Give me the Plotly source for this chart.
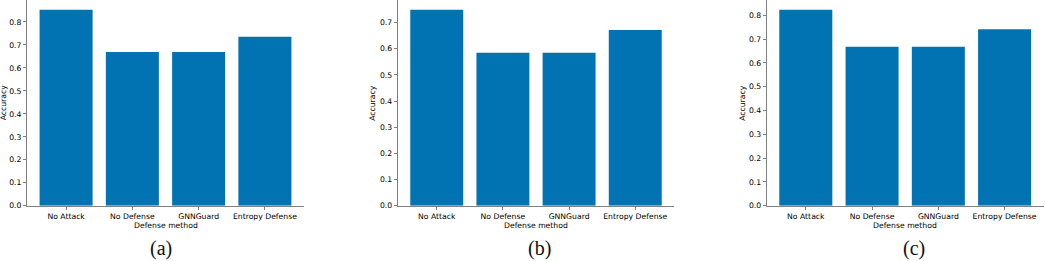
import plotly.graph_objects as go

W, H = 1045, 261

categories = ["No Attack", "No Defense", "GNNGuard", "Entropy Defense"]
acc_a = [0.853, 0.669, 0.669, 0.736]
acc_b = [0.749, 0.585, 0.585, 0.672]
acc_c = [0.823, 0.668, 0.668, 0.741]
panel_labels = ["(a)", "(b)", "(c)"]
series = [acc_a, acc_b, acc_c]

BAR = "#0173B2"
AXIS = "#7f7f7f"
TXT = "#000000"
TICKFONT = dict(family="DejaVu Sans", size=7.7, color=TXT)

# pixel layout of each panel (left, right)
x_px = [(27, 304), (397.7, 674.3), (766.7, 1043.7)]
ytitle_px = [3.5, 373, 743]
plabel_px = [161, 539, 914]
y_bottom_px = 205.7

fig = go.Figure()
annotations = []
for i, vals in enumerate(series):
    xa = "x" if i == 0 else f"x{i+1}"
    ya = "y" if i == 0 else f"y{i+1}"
    fig.add_trace(go.Bar(x=categories, y=vals, width=0.8, marker=dict(color=BAR, line=dict(width=0)),
                         xaxis=xa, yaxis=ya, showlegend=False))
    l, r = x_px[i]
    xkey = "xaxis" if i == 0 else f"xaxis{i+1}"
    ykey = "yaxis" if i == 0 else f"yaxis{i+1}"
    fig.layout[xkey] = dict(domain=[l / W, r / W], anchor=ya, range=[-0.59, 3.59], automargin=False,
                            type="category", showline=True, linecolor=AXIS, linewidth=1,
                            ticks="outside", ticklen=3, tickcolor=AXIS, tickwidth=1,
                            showgrid=False, zeroline=False, tickfont=TICKFONT, fixedrange=True)
    fig.layout[ykey] = dict(domain=[1 - y_bottom_px / H, 1], anchor=xa, range=[0, max(vals) * 1.05],
                            automargin=False,
                            showline=True, linecolor=AXIS, linewidth=1, dtick=0.1, tickformat=".1f",
                            ticks="outside", ticklen=3, tickcolor=AXIS, tickwidth=1,
                            showgrid=False, zeroline=False, tickfont=TICKFONT, fixedrange=True)
    annotations.append(dict(text="Accuracy", x=ytitle_px[i] / W, y=1 - (y_bottom_px / 2) / H,
                            xref="paper", yref="paper", showarrow=False, textangle=-90,
                            font=TICKFONT, xanchor="center", yanchor="middle"))
    annotations.append(dict(text="Defense method", x=(l + r) / 2 / W, y=1 - 225 / H,
                            xref="paper", yref="paper", showarrow=False,
                            font=TICKFONT, xanchor="center", yanchor="middle"))
    annotations.append(dict(text=panel_labels[i], x=plabel_px[i] / W, y=1 - 248 / H,
                            xref="paper", yref="paper", showarrow=False,
                            font=dict(family="Liberation Serif", size=20, color="#111"),
                            xanchor="center", yanchor="middle"))

fig.update_layout(template="none", width=W, height=H, margin=dict(l=0, r=0, t=0, b=0),
                  paper_bgcolor="white", plot_bgcolor="white", bargap=0.2,
                  annotations=annotations)

fig.write_html("out.html", config={"displayModeBar": False},
               post_script="document.body.style.margin='0';document.body.style.overflow='hidden';")
